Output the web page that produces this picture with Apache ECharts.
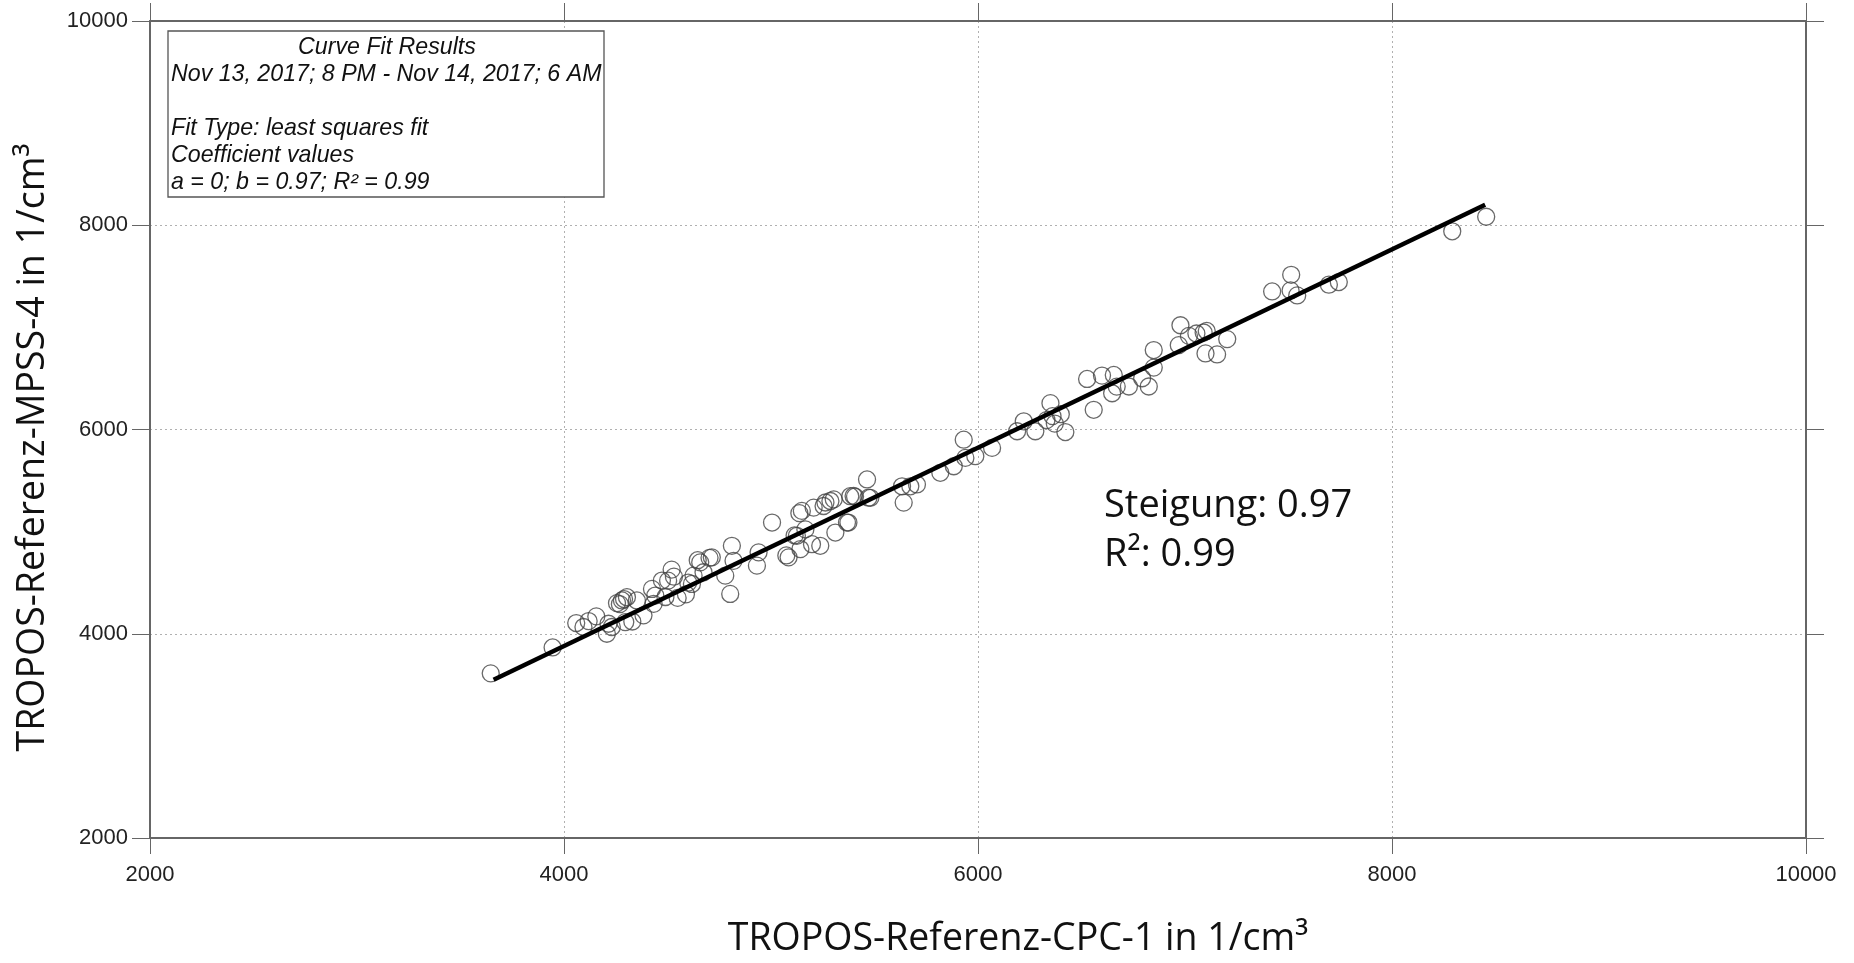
<!DOCTYPE html>
<html>
<head>
<meta charset="utf-8">
<script src="https://cdn.jsdelivr.net/npm/echarts@6/dist/echarts.min.js"></script>
<style>
html,body{margin:0;padding:0;background:#fff;}
#chart{width:1854px;height:963px;}
</style>
</head>
<body>
<div id="chart"></div>
<script>
// Data
const cpcValues = [3646,3945,4059,4094,4119,4156,4207,4215,4231,4256,4270,4280,4290,4304,4296,4330,4352,4384,4425,4433,4441,4473,4490,4503,4520,4531,4549,4589,4600,4618,4626,4646,4658,4674,4703,4714,4779,4803,4811,4819,4932,4940,5005,5074,5085,5114,5125,5137,5142,5149,5166,5198,5206,5238,5254,5263,5287,5303,5311,5367,5374,5383,5399,5406,5464,5471,5480,5633,5641,5673,5705,5818,5883,5931,5939,5987,6068,6189,6221,6277,6331,6350,6360,6371,6400,6422,6527,6559,6599,6648,6656,6670,6729,6793,6825,6849,6849,6970,6978,7019,7055,7090,7105,7099,7155,7204,7421,7513,7510,7542,7695,7743,8291,8455];
const mpssValues = [3612,3866,4105,4066,4124,4170,4000,4098,4066,4300,4290,4326,4340,4358,4114,4120,4326,4180,4439,4293,4374,4521,4360,4520,4628,4559,4351,4386,4501,4488,4569,4720,4699,4602,4743,4748,4569,4390,4861,4714,4667,4797,5089,4767,4748,4963,4959,5181,4829,5203,5022,4877,5235,4861,5251,5285,5300,5316,4991,5089,5089,5347,5349,5343,5511,5332,5331,5444,5284,5444,5462,5576,5640,5900,5722,5739,5820,5983,6080,5983,6092,6258,6131,6058,6150,5975,6495,6193,6528,6355,6534,6420,6421,6502,6421,6778,6606,6826,7021,6917,6940,6950,6965,6745,6735,6885,7352,7515,7362,7313,7418,7444,7941,8083];
const fitLineX = [3660, 8450];
const fitLineY = [3550, 8200];
const axisTicks = [2000, 4000, 6000, 8000, 10000];
const boxLines = ["Curve Fit Results", "Nov 13, 2017; 8 PM - Nov 14, 2017; 6 AM", "", "Fit Type: least squares fit", "Coefficient values", "a = 0; b = 0.97; R\u00b2 = 0.99"];
const noteLines = ["Steigung: 0.97", "R\u00b2: 0.99"];

const scatterData = cpcValues.map((x, i) => [x, mpssValues[i]]);
const fitData = fitLineX.map((x, i) => [x, fitLineY[i]]);
const axMin = axisTicks[0], axMax = axisTicks[axisTicks.length - 1], axInt = axisTicks[1] - axisTicks[0];

const chart = echarts.init(document.getElementById('chart'), null, {renderer: 'canvas'});
const tickFont = {fontFamily: 'Liberation Sans, Arial, sans-serif', fontSize: 22, color: '#222', formatter: v => String(v)};
const axisLineStyle = {color: '#666', width: 2};
const titleFont = {fontFamily: 'Open Sans, Noto Sans, sans-serif', fontSize: 37.5, color: '#111'};
const gridLine = {show: true, lineStyle: {color: '#b0b0b0', type: [2, 3], width: 1}};

const boxElems = [];
boxElems.push({type: 'rect', shape: {x: 168, y: 31, width: 436, height: 166}, style: {fill: '#fff', stroke: '#555', lineWidth: 1.3}, z: 10});
boxLines.forEach((t, i) => {
  if (!t) return;
  const centered = i === 0;
  boxElems.push({type: 'text', x: centered ? 387 : 171, y: 48 + i * 27, z: 11,
    style: {text: t, fontFamily: 'Liberation Sans, Arial, sans-serif', fontStyle: 'italic', fontSize: 23.2, fill: '#111',
      textAlign: centered ? 'center' : 'left', textVerticalAlign: 'middle'}});
});
noteLines.forEach((t, i) => {
  boxElems.push({type: 'text', x: 1104, y: 506 + i * 49, z: 11,
    style: {text: t, fontFamily: 'Open Sans, Noto Sans, sans-serif', fontSize: 38, fill: '#111', textAlign: 'left', textVerticalAlign: 'middle'}});
});

chart.setOption({
  backgroundColor: '#fff',
  animation: false,
  grid: {left: 150, right: 48, top: 21, bottom: 121, containLabel: false},
  xAxis: [{
    type: 'value', min: axMin, max: axMax, interval: axInt, position: 'bottom',
    name: 'TROPOS-Referenz-CPC-1 in 1/cm\u00b3', nameLocation: 'middle', nameGap: 82,
    nameTextStyle: Object.assign({}, titleFont, {padding: [0, 0, 0, 80]}),
    axisLine: {show: true, onZero: false, lineStyle: axisLineStyle},
    axisTick: {show: true, inside: false, length: 16, lineStyle: {color: '#666', width: 1}},
    axisLabel: Object.assign({margin: 26}, tickFont),
    splitLine: gridLine
  }, {
    type: 'value', min: axMin, max: axMax, interval: axInt, position: 'top',
    axisLine: {show: true, onZero: false, lineStyle: axisLineStyle},
    axisTick: {show: true, inside: false, length: 18, lineStyle: {color: '#666', width: 1}},
    axisLabel: {show: false}, splitLine: {show: false}
  }],
  yAxis: [{
    type: 'value', min: axMin, max: axMax, interval: axInt, position: 'left',
    name: 'TROPOS-Referenz-MPSS-4 in 1/cm\u00b3', nameLocation: 'middle', nameGap: 98,
    nameTextStyle: Object.assign({}, titleFont, {padding: [0, 36, 0, 0]}),
    axisLine: {show: true, onZero: false, lineStyle: axisLineStyle},
    axisTick: {show: true, inside: false, length: 18, lineStyle: {color: '#666', width: 1}},
    axisLabel: Object.assign({margin: 22}, tickFont),
    splitLine: gridLine
  }, {
    type: 'value', min: axMin, max: axMax, interval: axInt, position: 'right',
    axisLine: {show: true, onZero: false, lineStyle: axisLineStyle},
    axisTick: {show: true, inside: false, length: 18, lineStyle: {color: '#666', width: 1}},
    axisLabel: {show: false}, splitLine: {show: false}
  }],
  series: [{
    type: 'scatter', data: scatterData, symbol: 'circle', symbolSize: 17,
    itemStyle: {color: 'rgba(255,255,255,0)', borderColor: '#444', borderWidth: 1.3},
    z: 3
  }, {
    type: 'line', data: fitData, showSymbol: false, symbol: 'none',
    lineStyle: {color: '#000', width: 4.5}, z: 4, silent: true
  }],
  graphic: boxElems
});
</script>
</body>
</html>
